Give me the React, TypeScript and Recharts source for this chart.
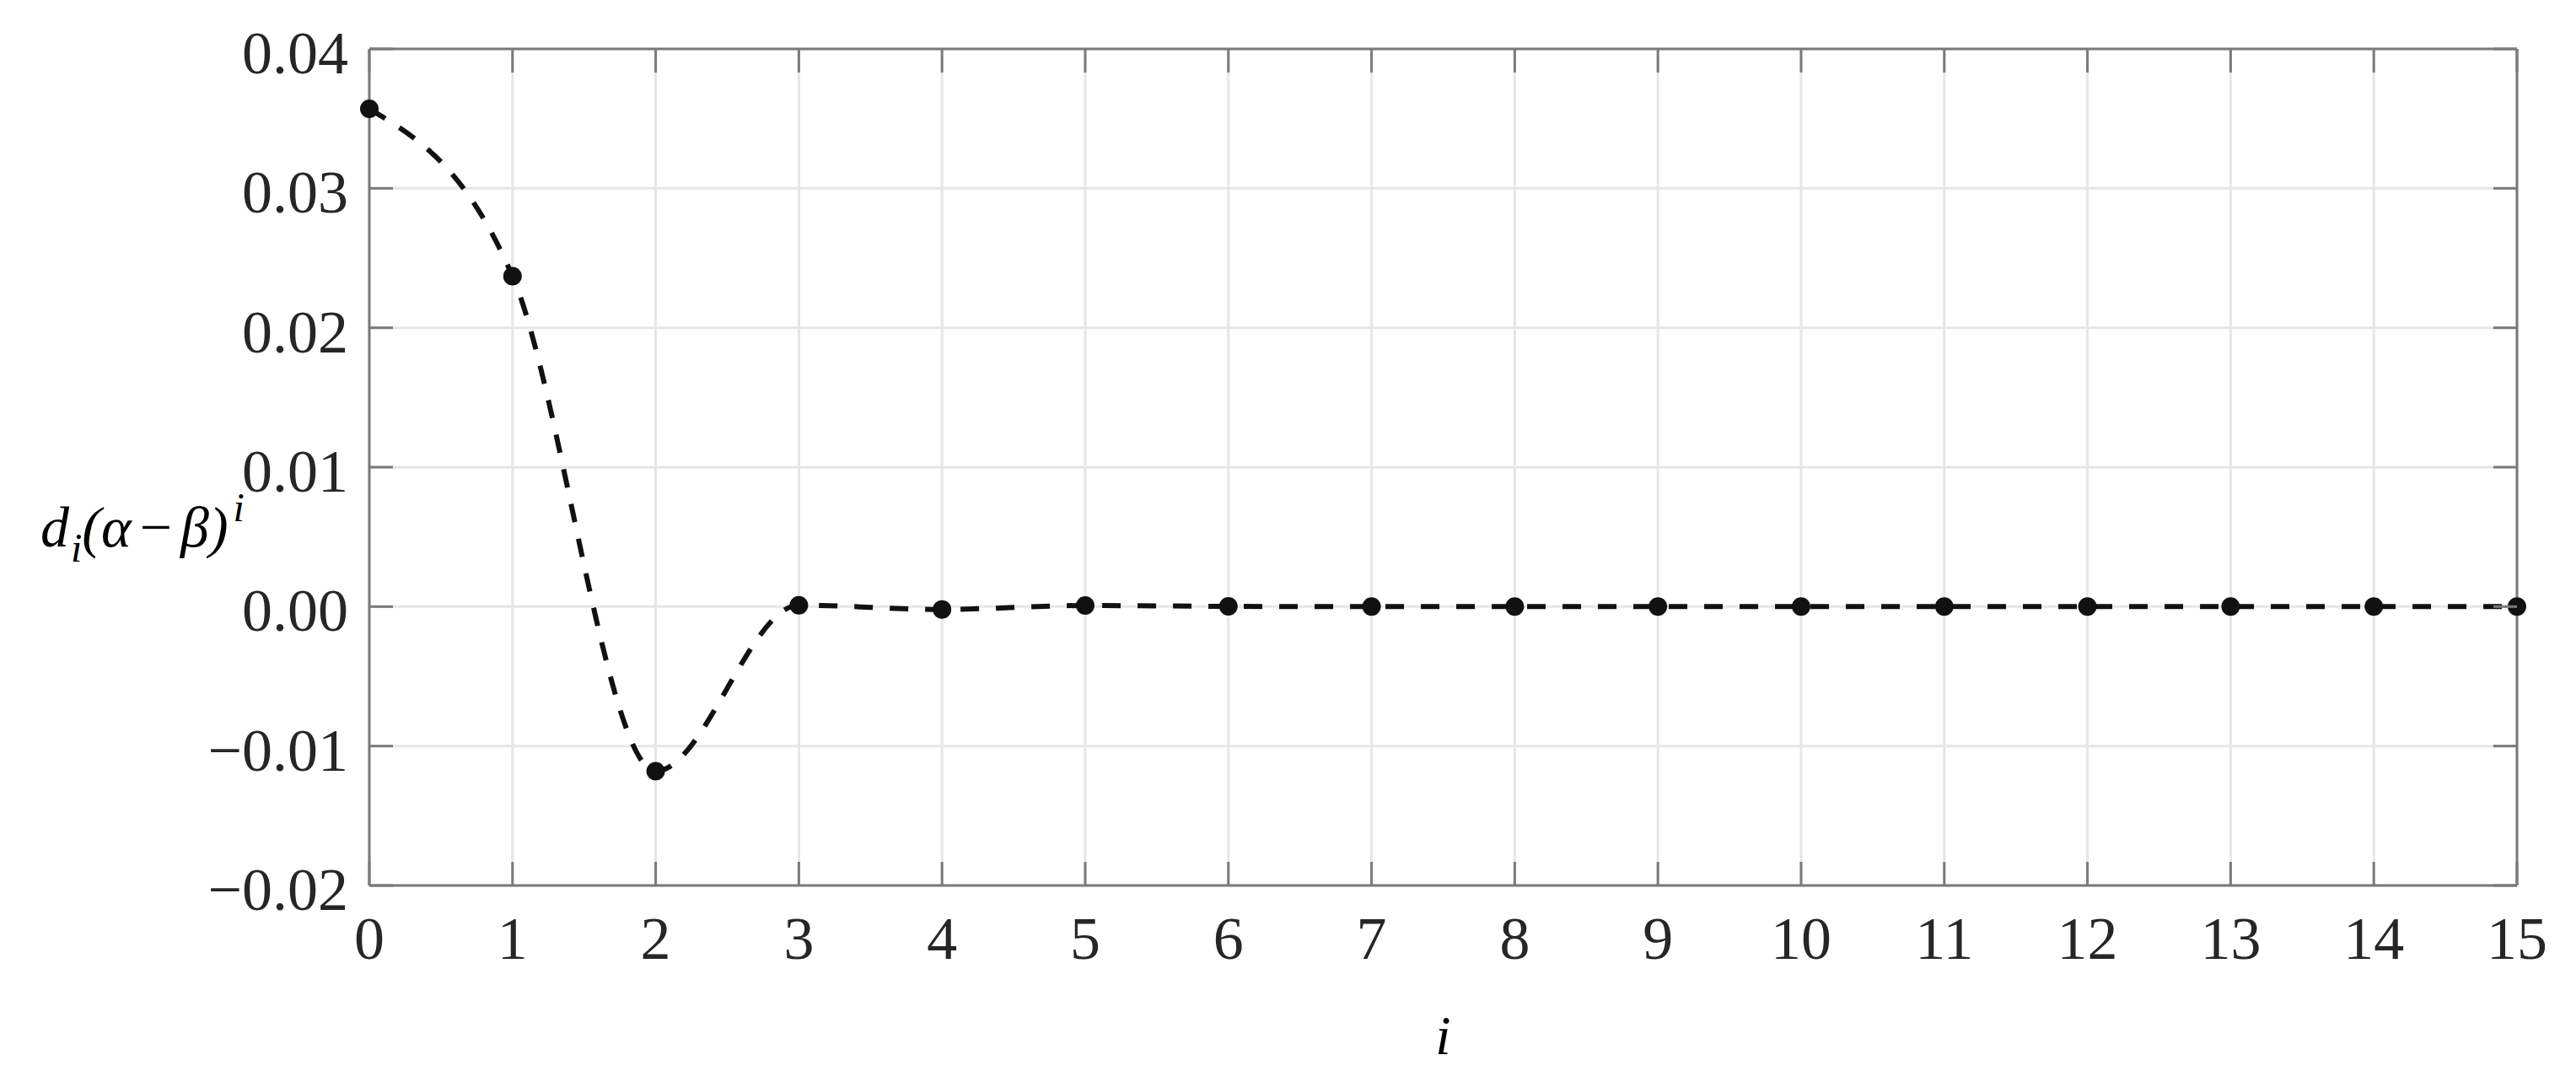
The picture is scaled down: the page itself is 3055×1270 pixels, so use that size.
import React from "react";
import { LineChart, Line, XAxis, YAxis, CartesianGrid, ReferenceLine } from "recharts";

const iValues = [0, 1, 2, 3, 4, 5, 6, 7, 8, 9, 10, 11, 12, 13, 14, 15];
const dValues = [
  0.0357, 0.0237, -0.0118, 0.0001, -0.0002, 0.00008, 0.00002, 0, 0, 0, 0, 0, 0, 0, 0, 0,
];
const xTicks = [0, 1, 2, 3, 4, 5, 6, 7, 8, 9, 10, 11, 12, 13, 14, 15];
const yTicks = [-0.02, -0.01, 0, 0.01, 0.02, 0.03, 0.04];

const W = 3055;
const H = 1270;
const PLOT_LEFT = 438;
const PLOT_RIGHT = 2985;
const PLOT_TOP = 58;
const PLOT_BOTTOM = 1050;
const TICK_LEN = 28;

const AXIS = "#7a7a7a";
const GRID = "#e6e6e6";
const TEXT = "#262626";
const FONT = "'Liberation Serif', 'Times New Roman', serif";

const data = iValues.map((i, k) => ({ i, d: dValues[k] }));

const fmtY = (v: number) => (v < 0 ? "\u2212" : "") + Math.abs(v).toFixed(2);

function XTick(props: any) {
  const { x, payload } = props;
  return (
    <g>
      <line x1={x} x2={x} y1={PLOT_BOTTOM} y2={PLOT_BOTTOM - TICK_LEN} stroke={AXIS} strokeWidth={3} />
      <line x1={x} x2={x} y1={PLOT_TOP} y2={PLOT_TOP + TICK_LEN} stroke={AXIS} strokeWidth={3} />
      <text x={x} y={PLOT_BOTTOM + 87} textAnchor="middle" fontFamily={FONT} fontSize={72} fill={TEXT}>
        {payload.value}
      </text>
    </g>
  );
}

function YTick(props: any) {
  const { y, payload } = props;
  return (
    <g>
      <line x1={PLOT_LEFT} x2={PLOT_LEFT + TICK_LEN} y1={y} y2={y} stroke={AXIS} strokeWidth={3} />
      <line x1={PLOT_RIGHT} x2={PLOT_RIGHT - TICK_LEN} y1={y} y2={y} stroke={AXIS} strokeWidth={3} />
      <text x={PLOT_LEFT - 25} y={y + 29} textAnchor="end" fontFamily={FONT} fontSize={72} fill={TEXT}>
        {fmtY(payload.value)}
      </text>
    </g>
  );
}

const xTitle = () => (
  <text x={(PLOT_LEFT + PLOT_RIGHT) / 2} y={1250} textAnchor="middle" fontFamily={FONT} fontStyle="italic" fontSize={66} fill="#000">
    i
  </text>
);

const yTitle = () => (
  <text x={48} y={648} fontFamily={FONT} fontStyle="italic" fontSize={68} fill="#000">
    d
    <tspan fontSize={48} dy={18} dx={2}>i</tspan>
    <tspan dy={-18}>(α</tspan>
    <tspan fontStyle="normal" dx={10}>−</tspan>
    <tspan dx={10}>β)</tspan>
    <tspan fontSize={48} dy={-30} dx={6}>i</tspan>
  </text>
);

export default function App() {
  return (
    <div style={{ position: "absolute", left: 0, top: 0, background: "#fff" }}>
      <LineChart width={W} height={H} data={data} margin={{ top: PLOT_TOP, right: W - PLOT_RIGHT, bottom: 0, left: 0 }}>
        <CartesianGrid stroke={GRID} strokeWidth={3} />
        <XAxis
          dataKey="i"
          type="number"
          domain={[0, 15]}
          ticks={xTicks}
          interval={0}
          height={H - PLOT_BOTTOM}
          axisLine={{ stroke: AXIS, strokeWidth: 3 }}
          tickLine={false}
          tick={XTick}
          label={{ content: xTitle }}
        />
        <YAxis
          type="number"
          domain={[-0.02, 0.04]}
          ticks={yTicks}
          interval={0}
          width={PLOT_LEFT}
          axisLine={{ stroke: AXIS, strokeWidth: 3 }}
          tickLine={false}
          tick={YTick}
          label={{ content: yTitle }}
        />
        <ReferenceLine y={0.04} stroke={AXIS} strokeWidth={3} />
        <ReferenceLine x={15} stroke={AXIS} strokeWidth={3} />
        <Line
          type="monotone"
          dataKey="d"
          stroke="#111"
          strokeWidth={6}
          strokeDasharray="22 20"
          dot={{ r: 11, fill: "#111", stroke: "none", strokeDasharray: "0" }}
          activeDot={false}
          isAnimationActive={false}
        />
      </LineChart>
    </div>
  );
}
